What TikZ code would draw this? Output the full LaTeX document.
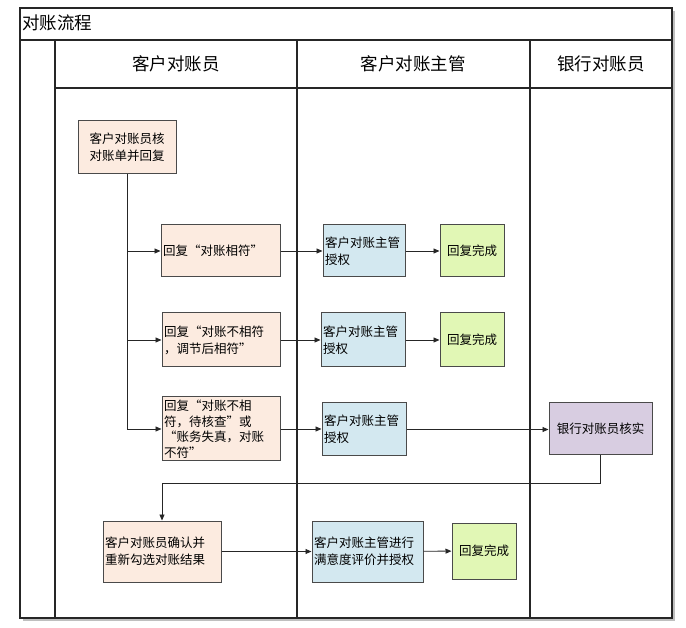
\documentclass[tikz,border=0pt]{standalone}
\usepackage{fontspec}
\setmainfont{Noto Sans CJK SC}
\usetikzlibrary{arrows.meta}
\definecolor{peach}{HTML}{FCEBE0}
\definecolor{lblue}{HTML}{D3E8F0}
\definecolor{lgreen}{HTML}{E1F7B5}
\definecolor{lpurple}{HTML}{D8CDE1}
\definecolor{bdr}{HTML}{4A4A4A}
\begin{document}
\begin{tikzpicture}[x=1pt,y=-1pt,
  frame/.style={draw=black!85, line width=1.3pt},
  boxbase/.style={draw=bdr, line width=1pt, inner sep=2pt, font=\fontsize{12.5}{17}\selectfont},
  pbox/.style={boxbase, fill=peach},
  bbox/.style={boxbase, fill=lblue},
  gbox/.style={boxbase, fill=lgreen},
  vbox/.style={boxbase, fill=lpurple},
  arr/.style={draw=black!85, line width=0.9pt, -{Triangle[length=6pt,width=5pt]}},
  hdr/.style={font=\fontsize{17.5}{19}\selectfont}
]
\useasboundingbox (0,0) rectangle (686,628);
% shadow
\fill[black!25] (23,11) rectangle (675,621);
\fill[white] (20,8) rectangle (672,618);
% frame
\draw[frame] (20,8) rectangle (672,618);
\draw[frame] (20,40) -- (672,40);
\draw[frame] (55,40) -- (55,618);
\draw[frame] (55,88) -- (672,88);
\draw[frame] (297,40) -- (297,618);
\draw[frame] (530,40) -- (530,618);
\node[hdr, anchor=west, inner sep=1pt] (title) at (21,23) {对账流程};
\node[hdr] (h1) at (176,64) {客户对账员};
\node[hdr] (h2) at (413,64) {客户对账主管};
\node[hdr] (h3) at (601,64) {银行对账员};

% boxes
\node[pbox, minimum width=98, minimum height=53, align=center] (a) at (127,147.5) {客户对账员核\\对账单并回复};
\node[pbox, minimum width=119, minimum height=52, text width=115, align=left] (b2) at (220.5,251) {回复“对账相符”};
\node[pbox, minimum width=118, minimum height=54, text width=114, align=left] (b3) at (221,340) {回复“对账不相符\\，调节后相符”};
\node[pbox, minimum width=118, minimum height=64, text width=114, align=left, font=\fontsize{12.5}{15.5}\selectfont] (b4) at (221,429) {回复“对账不相\\符，待核查”或\\“账务失真，对账\\不符”};
\node[bbox, minimum width=82, minimum height=52, text width=78, align=left] (c2) at (364,251) {客户对账主管\\授权};
\node[bbox, minimum width=84, minimum height=54, text width=80, align=left] (c3) at (363,340) {客户对账主管\\授权};
\node[bbox, minimum width=84, minimum height=53, text width=80, align=left] (c4) at (364,429.5) {客户对账主管\\授权};
\node[gbox, minimum width=64, minimum height=52] (d2) at (472,251) {回复完成};
\node[gbox, minimum width=64, minimum height=54] (d3) at (472,340) {回复完成};
\node[vbox, minimum width=103, minimum height=52] (e4) at (600.5,429) {银行对账员核实};
\node[pbox, minimum width=118, minimum height=61, text width=114, align=left] (f1) at (162,551.5) {客户对账员确认并\\重新勾选对账结果};
\node[bbox, minimum width=111, minimum height=61, text width=107, align=left] (f2) at (367.5,551.5) {客户对账主管进行\\满意度评价并授权};
\node[gbox, minimum width=64, minimum height=56] (f3) at (484,551) {回复完成};

% connectors
\draw[arr] (a.south) |- (b2.west);
\draw[arr] (a.south) |- (b3.west);
\draw[arr] (a.south) |- (b4.west);
\draw[arr] (b2) -- (c2);
\draw[arr] (b3) -- (c3);
\draw[arr] (b4.east) -- (c4.west |- b4.east);
\draw[arr] (c2) -- (d2);
\draw[arr] (c3) -- (d3);
\draw[arr] (c4.east) -- (e4.west |- c4.east);
\coordinate (k) at (600.5,483);
\draw[arr] (e4.south) -- (k) -| (f1.north);
\draw[arr] (f1) -- (f2);
\draw[arr] (f2) -- (f3);
\end{tikzpicture}
\end{document}
